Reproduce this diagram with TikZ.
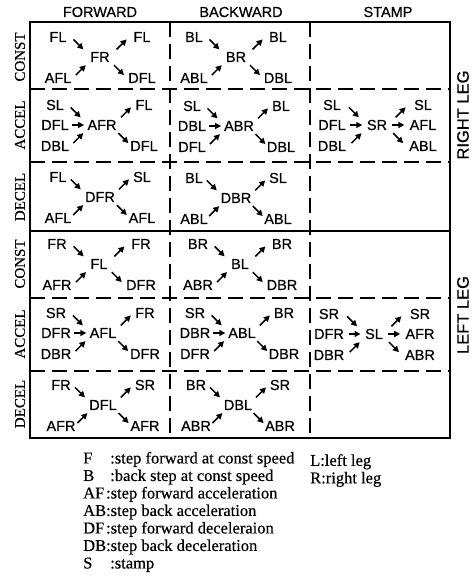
\documentclass[tikz,border=0pt]{standalone}
\usepackage{fontspec}
\setmainfont{Liberation Serif}[FakeBold=0.4]
\setsansfont{Liberation Sans}[FakeBold=0.6]
\usepackage{tikz}
\usetikzlibrary{arrows.meta, calc}

% short arrows, centred between two anchors
\newcommand{\mvdown}[2]{\draw[steparr] ($(#1)!.5!(#2)+(-5,-5)$) -- ($(#1)!.5!(#2)+(5,5)$);}
\newcommand{\mvup}[2]{\draw[steparr] ($(#1)!.5!(#2)+(-5,5)$) -- ($(#1)!.5!(#2)+(5,-5)$);}
\newcommand{\mvacross}[2]{\draw[steparr] ($(#1)!.5!(#2)+(-6,0)$) -- ($(#1)!.5!(#2)+(6,0)$);}

% const / decel cell: centre, 2 before, 2 after
\newcommand{\xcell}[5]{
  \node[lab] (c) at (0,0) {#1};
  \node[lab] (tl) at (-42,-20) {#2};
  \node[lab] (bl) at (-42,21) {#3};
  \node[lab] (tr) at (42,-20) {#4};
  \node[lab] (br) at (42,21) {#5};
  \mvdown{tl.east}{c.north west}
  \mvup{bl.east}{c.south west}
  \mvup{c.north east}{tr.west}
  \mvdown{c.south east}{br.west}
}
% accel cell: centre, 3 before, 2 after
\newcommand{\acell}[6]{
  \node[lab] (c) at (0,0) {#1};
  \node[lab] (tl) at (-47,-20) {#2};
  \node[lab] (ml) at (-47,0) {#3};
  \node[lab] (bl) at (-47,21) {#4};
  \node[lab] (tr) at (42,-20) {#5};
  \node[lab] (br) at (42,21) {#6};
  \mvdown{tl.east}{c.north west}
  \mvacross{ml.east}{c.west}
  \mvup{bl.east}{c.south west}
  \mvup{c.north east}{tr.west}
  \mvdown{c.south east}{br.west}
}
% stamp cell: centre, 3 before, 3 after
\newcommand{\scell}[7]{
  \node[lab] (c) at (0,0) {#1};
  \node[lab] (tl) at (-45,-20) {#2};
  \node[lab] (ml) at (-45,0) {#3};
  \node[lab] (bl) at (-45,21) {#4};
  \node[lab] (tr) at (46,-20) {#5};
  \node[lab] (mr) at (46,0) {#6};
  \node[lab] (br) at (46,21) {#7};
  \mvdown{tl.east}{c.north west}
  \mvacross{ml.east}{c.west}
  \mvup{bl.east}{c.south west}
  \mvup{c.north east}{tr.west}
  \mvacross{c.east}{mr.west}
  \mvdown{c.south east}{br.west}
}

\begin{document}
\begin{tikzpicture}[x=1pt, y=-1pt,
    lab/.style={font=\sffamily\fontsize{14.5}{16}\selectfont, inner sep=0pt},
    steparr/.style={line width=1.5pt, -{Triangle[length=6pt,width=6pt]}},
    gridsolid/.style={line width=1.8pt},
    griddash/.style={line width=1.5pt, dash pattern=on 15pt off 7pt},
    rowname/.style={font=\fontsize{15}{16}\selectfont, rotate=90, inner sep=0pt},
    legname/.style={font=\sffamily\fontsize{16.5}{18}\selectfont, rotate=90, inner sep=0pt},
    key/.style={font=\fontsize{16.5}{17.5}\selectfont, inner sep=0pt, anchor=north west, align=left}]
    \useasboundingbox (0,0) rectangle (471,583);

    % Table lines
    \draw[gridsolid] (30,22) rectangle (450,438);
    \draw[gridsolid] (30,231) -- (450,231);
    \draw[griddash] (170,22) -- (170,438);
    \draw[griddash] (310,22) -- (310,438);
    \draw[griddash] (30,89) -- (450,89);
    \draw[griddash] (30,162) -- (450,162);
    \draw[griddash] (30,298) -- (450,298);
    \draw[griddash] (30,371) -- (450,371);

    % Column and row names
    \node[lab] (fwd) at (100,12) {FORWARD};
    \node[lab] (bwd) at (241,12) {BACKWARD};
    \node[lab] (stp) at (388,12) {STAMP};
    \node[rowname] (rconst) at (20,57) {CONST};
    \node[rowname] (raccel) at (20,125) {ACCEL};
    \node[rowname] (rdecel) at (20,197) {DECEL};
    \node[rowname] (lconst) at (20,264) {CONST};
    \node[rowname] (laccel) at (20,334) {ACCEL};
    \node[rowname] (ldecel) at (20,404) {DECEL};
    \node[legname] (rleg) at (463,115) {RIGHT LEG};
    \node[legname] (lleg) at (463,315) {LEFT LEG};

    % Right leg
    \begin{scope}[shift={(100,57)}, name prefix=rfc-] \xcell{FR}{FL}{AFL}{FL}{DFL} \end{scope}
    \begin{scope}[shift={(236,57)}, name prefix=rbc-] \xcell{BR}{BL}{ABL}{BL}{DBL} \end{scope}
    \begin{scope}[shift={(102,125)}, name prefix=rfa-] \acell{AFR}{SL}{DFL}{DBL}{FL}{DFL} \end{scope}
    \begin{scope}[shift={(239,126)}, name prefix=rba-] \acell{ABR}{SL}{DBL}{DFL}{BL}{DBL} \end{scope}
    \begin{scope}[shift={(377,125)}, name prefix=rsa-] \scell{SR}{SL}{DFL}{DBL}{SL}{AFL}{ABL} \end{scope}
    \begin{scope}[shift={(100,197)}, name prefix=rfd-] \xcell{DFR}{FL}{AFL}{SL}{AFL} \end{scope}
    \begin{scope}[shift={(236,198)}, name prefix=rbd-] \xcell{DBR}{BL}{ABL}{SL}{ABL} \end{scope}

    % Left leg
    \begin{scope}[shift={(99,264)}, name prefix=lfc-] \xcell{FL}{FR}{AFR}{FR}{DFR} \end{scope}
    \begin{scope}[shift={(240,264)}, name prefix=lbc-] \xcell{BL}{BR}{ABR}{BR}{DBR} \end{scope}
    \begin{scope}[shift={(103,333)}, name prefix=lfa-] \acell{AFL}{SR}{DFR}{DBR}{FR}{DFR} \end{scope}
    \begin{scope}[shift={(242,333)}, name prefix=lba-] \acell{ABL}{SR}{DBR}{DFR}{BR}{DBR} \end{scope}
    \begin{scope}[shift={(374,334)}, name prefix=lsa-] \scell{SL}{SR}{DFR}{DBR}{SR}{AFR}{ABR} \end{scope}
    \begin{scope}[shift={(103,405)}, name prefix=lfd-] \xcell{DFL}{FR}{AFR}{SR}{AFR} \end{scope}
    \begin{scope}[shift={(238,405)}, name prefix=lbd-] \xcell{DBL}{BR}{ABR}{SR}{ABR} \end{scope}

    % Key
    \node[key] (keyleft) at (83,451) {\begin{tabular}{@{}l@{}l@{}}
        F & \ :step forward at const speed\\
        B & \ :back step at const speed\\
        AF & :step forward acceleration\\
        AB & :step back acceleration\\
        DF & :step forward deceleraion\\
        DB & :step back deceleration\\
        S & \ :stamp
    \end{tabular}};
    \node[key] (keyright) at (310,454) {L:left leg\\R:right leg};
\end{tikzpicture}
\end{document}
